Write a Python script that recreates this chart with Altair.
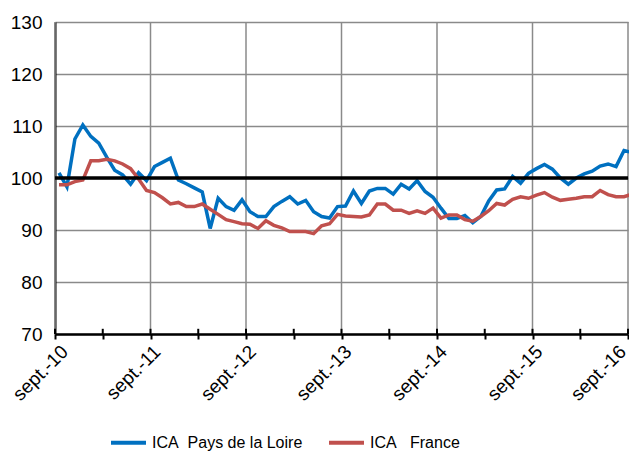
import json
import altair as alt
import pandas as pd

# ---- data ----
months = list(range(73))  # 0 = sept. 2010 ... 72 = sept. 2016
ica_pdl = [101, 98.3, 107.5, 110.2, 108, 106.7, 104, 101.5, 100.6, 98.8, 101, 99.5,
           102.2, 103, 103.8, 99.6, 98.9, 98.1, 97.3, 90.3, 96.1, 94.5, 93.8, 95.8,
           93.5, 92.6, 92.6, 94.5, 95.5, 96.4, 95, 95.7, 93.5, 92.6, 92.3, 94.5,
           94.6, 97.5, 95.1, 97.5, 98, 98, 96.9, 98.8, 97.9, 99.5, 97.4, 96.3,
           94.2, 92.2, 92.2, 92.8, 91.4, 92.6, 95.6, 97.7, 97.9, 100.3, 99, 100.9,
           101.8, 102.6, 101.7, 100, 98.8, 100, 100.8, 101.3, 102.3, 102.7, 102.2, 105.3,
           104.9]
ica_fr = [98.7, 98.7, 99.3, 99.6, 103.3, 103.3, 103.6, 103.3, 102.7, 101.8, 99.8, 97.6,
          97.2, 96.2, 95, 95.3, 94.5, 94.5, 95, 94, 93, 92, 91.6, 91.2,
          91.1, 90.3, 91.8, 90.9, 90.4, 89.7, 89.7, 89.7, 89.3, 90.8, 91.2, 93,
          92.7, 92.6, 92.5, 92.9, 95, 95, 93.8, 93.8, 93.2, 93.7, 93.2, 94.2,
          92.3, 92.9, 92.9, 92, 91.7, 92.6, 93.7, 95.1, 94.8, 95.9, 96.4, 96.1,
          96.7, 97.2, 96.3, 95.7, 95.9, 96.1, 96.4, 96.4, 97.6, 96.8, 96.4, 96.4,
          96.9]
series_names = ["ICA\u00a0\u00a0Pays de la Loire", "ICA\u00a0\u00a0\u00a0France"]
series_colors = ["#0070C0", "#C0504D"]
x_labels = ["sept.-10", "sept.-11", "sept.-12", "sept.-13", "sept.-14", "sept.-15", "sept.-16"]
year_ticks = [-0.5 + 12 * k for k in range(7)]
half_ticks = [-0.5 + 6 * k for k in range(13)]
y_ticks = [70, 80, 90, 100, 110, 120, 130]
reference_level = 100

df = pd.DataFrame({
    "m": months * 2,
    "v": ica_pdl + ica_fr,
    "s": [series_names[0]] * len(months) + [series_names[1]] * len(months),
})

FONT = "Liberation Sans, Arial, sans-serif"
GRID = "#8a8a8a"

x_scale = alt.Scale(domain=[-0.5, 71.5], nice=False, zero=False)
y_scale = alt.Scale(domain=[70, 130], nice=False, zero=False)

label_expr = ("(datum.value + 0.5) % 12 == 0 ? " + json.dumps(x_labels)
              + "[(datum.value + 0.5) / 12] : ''")

x_axis = alt.Axis(
    values=half_ticks, labelExpr=label_expr, grid=False, title=None,
    domainColor="black", domainWidth=2.5, tickColor="black", tickWidth=2,
    tickSize=5, labelAngle=315, labelAlign="right", labelBaseline="top",
    labelFont=FONT, labelFontSize=19, labelColor="black", labelPadding=3,
    labelOffset={"condition": [{"test": "datum.value < 0", "value": 3},
                               {"test": "datum.value > 70", "value": -12}],
                 "value": 0},
    labelOverlap=False, labelFlush=False)
y_axis = alt.Axis(
    values=y_ticks, grid=True, gridColor=GRID, gridWidth=1.5, ticks=False,
    domainColor="black", domainWidth=2, title=None, labelFont=FONT,
    labelFontSize=19, labelColor="black", labelPadding=13)

vgrid = alt.Chart(pd.DataFrame({"t": year_ticks})).mark_rule(
    color=GRID, strokeWidth=1.5
).encode(
    x=alt.X("t:Q", scale=x_scale, axis=x_axis),
)

inner_ticks = alt.Chart(pd.DataFrame({"t": half_ticks})).mark_rule(
    color="black", strokeWidth=2
).encode(
    x=alt.X("t:Q", scale=x_scale, axis=x_axis),
    y=alt.datum(70, scale=y_scale, axis=y_axis),
    y2=alt.datum(71),
)

lines = alt.Chart(df).mark_line(strokeWidth=3.5).encode(
    x=alt.X("m:Q", scale=x_scale, axis=x_axis),
    y=alt.Y("v:Q", scale=y_scale, axis=y_axis),
    color=alt.Color("s:N", scale=alt.Scale(domain=series_names, range=series_colors),
                    sort=series_names, title=None),
    detail="s:N",
)

ref_rule = alt.Chart(pd.DataFrame({"r": [reference_level]})).mark_rule(
    color="black", strokeWidth=3.5
).encode(y=alt.Y("r:Q", scale=y_scale, axis=y_axis))

chart = alt.layer(vgrid, inner_ticks, lines, ref_rule).properties(
    width=573, height=312,
    autosize=alt.AutoSizeParams(type="none"),
    padding={"left": 47, "top": 14, "right": 1, "bottom": 122},
).configure_view(stroke=None).configure_legend(
    orient="none", legendX=54, legendY=401, direction="horizontal",
    symbolType="stroke", symbolSize=1225, symbolStrokeWidth=4,
    labelFont=FONT, labelFontSize=16, labelColor="black", labelOffset=4,
    columnPadding=18, labelLimit=400,
)

chart.save("out.html", embed_options={"renderer": "svg", "actions": False})
